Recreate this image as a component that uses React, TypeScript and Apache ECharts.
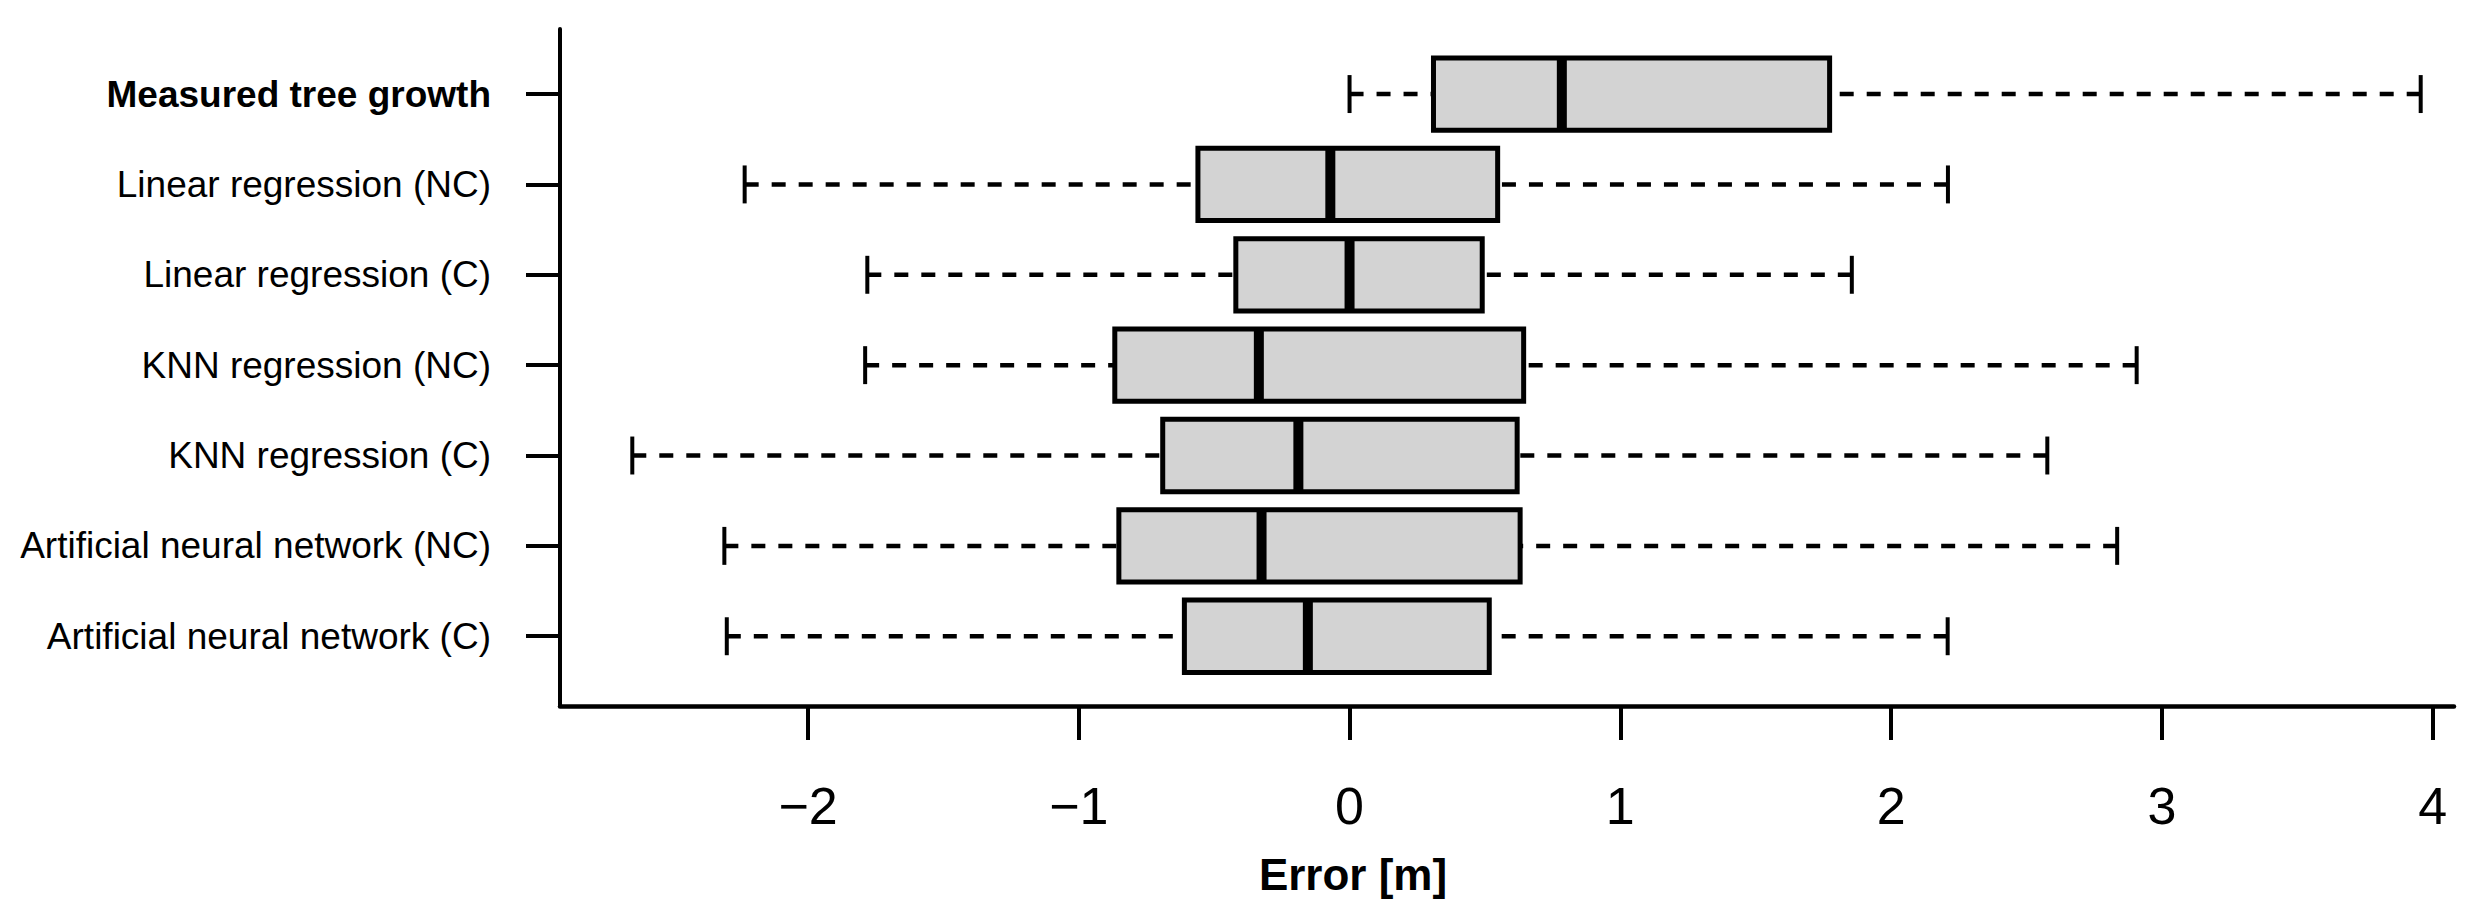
import React, { useEffect, useRef } from "react";
import * as echarts from "echarts";

// Categories, top to bottom as they appear in the chart
const categories = [
  "Measured tree growth",
  "Linear regression (NC)",
  "Linear regression (C)",
  "KNN regression (NC)",
  "KNN regression (C)",
  "Artificial neural network (NC)",
  "Artificial neural network (C)",
];

// Box-plot statistics (Error [m])
const lowerWhisker = [0.0, -2.234, -1.781, -1.789, -2.649, -2.309, -2.3];
const quartile1 = [0.31, -0.56, -0.42, -0.867, -0.69, -0.852, -0.61];
const medians = [0.784, -0.071, 0.0, -0.335, -0.189, -0.325, -0.154];
const quartile3 = [1.773, 0.547, 0.49, 0.643, 0.619, 0.63, 0.516];
const upperWhisker = [3.956, 2.21, 1.855, 2.907, 2.577, 2.835, 2.209];

// Axis ticks
const xTicks = [-2, -1, 0, 1, 2, 3, 4];
const X_MIN = -2.916;
const X_MAX = 4.079;
const Y_MIN = 0.228;
const Y_MAX = 7.72;
const xAxisTitle = "Error [m]";

const FONT = "'Liberation Sans', Arial, Helvetica, sans-serif";

// position on the value y axis (R style: first group at the bottom)
const positions = categories.map((_, i) => categories.length - i);

export default function App() {
  const ref = useRef<HTMLDivElement>(null);

  useEffect(() => {
    if (!ref.current) return;
    const chart = echarts.init(ref.current, undefined, { renderer: "svg" });

    const data = categories.map((_, i) => [
      positions[i],
      lowerWhisker[i],
      quartile1[i],
      medians[i],
      quartile3[i],
      upperWhisker[i],
    ]);

    const renderItem = (params: any, api: any) => {
      const pos = api.value(0);
      const lo = api.value(1);
      const q1 = api.value(2);
      const med = api.value(3);
      const q3 = api.value(4);
      const hi = api.value(5);
      const unit = api.size([0, 1])[1];
      const halfBox = unit * 0.4;
      const halfStaple = unit * 0.21;
      const pLo = api.coord([lo, pos]);
      const pQ1 = api.coord([q1, pos]);
      const pMed = api.coord([med, pos]);
      const pQ3 = api.coord([q3, pos]);
      const pHi = api.coord([hi, pos]);
      const cy = pLo[1];
      const dashStyle = {
        stroke: "#000",
        lineWidth: 4.5,
        lineDash: [14, 13],
        fill: null,
      };
      const solid = (w: number) => ({ stroke: "#000", lineWidth: w, fill: null });
      return {
        type: "group",
        children: [
          {
            type: "line",
            shape: { x1: pLo[0], y1: cy, x2: pQ1[0], y2: cy },
            style: dashStyle,
          },
          {
            type: "line",
            shape: { x1: pHi[0], y1: cy, x2: pQ3[0], y2: cy },
            style: dashStyle,
          },
          {
            type: "line",
            shape: { x1: pLo[0], y1: cy - halfStaple, x2: pLo[0], y2: cy + halfStaple },
            style: solid(4),
          },
          {
            type: "line",
            shape: { x1: pHi[0], y1: cy - halfStaple, x2: pHi[0], y2: cy + halfStaple },
            style: solid(4),
          },
          {
            type: "rect",
            shape: {
              x: pQ1[0],
              y: cy - halfBox,
              width: pQ3[0] - pQ1[0],
              height: halfBox * 2,
            },
            style: { fill: "#d3d3d3", stroke: "#000", lineWidth: 5 },
          },
          {
            type: "line",
            shape: { x1: pMed[0], y1: cy - halfBox, x2: pMed[0], y2: cy + halfBox },
            style: solid(10),
          },
        ],
      };
    };

    const option: any = {
      animation: false,
      backgroundColor: "#ffffff",
      grid: { left: 560, top: 29, width: 1894, height: 677, containLabel: false },
      xAxis: {
        type: "value",
        min: X_MIN,
        max: X_MAX,
        splitLine: { show: false },
        axisLine: { show: true, onZero: false, lineStyle: { color: "#000", width: 4.5 } },
        axisTick: {
          show: true,
          length: 34,
          customValues: xTicks,
          lineStyle: { color: "#000", width: 4 },
        },
        axisLabel: {
          show: true,
          customValues: xTicks,
          margin: 74,
          fontSize: 52,
          lineHeight: 52,
          fontFamily: FONT,
          color: "#000",
          formatter: (v: number) => String(v).replace("-", "\u2212"),
        },
      },
      yAxis: {
        type: "value",
        min: Y_MIN,
        max: Y_MAX,
        splitLine: { show: false },
        axisLine: { show: true, onZero: false, lineStyle: { color: "#000", width: 4 } },
        axisTick: {
          show: true,
          length: 34,
          customValues: positions,
          lineStyle: { color: "#000", width: 4 },
        },
        axisLabel: {
          show: true,
          customValues: positions,
          margin: 69,
          fontSize: 37,
          lineHeight: 37,
          fontFamily: FONT,
          color: "#000",
          formatter: (v: number) => {
            const idx = categories.length - Math.round(v);
            const name = categories[idx] ?? "";
            return idx === 0 ? `{b|${name}}` : name;
          },
          rich: {
            b: {
              fontWeight: "bold",
              fontSize: 37,
              lineHeight: 37,
              fontFamily: FONT,
              color: "#000",
            },
          },
        },
      },
      graphic: [
        {
          type: "text",
          x: 1353,
          y: 874,
          style: {
            text: xAxisTitle,
            fill: "#000",
            font: `bold 44px ${FONT}`,
            textAlign: "center",
            textVerticalAlign: "middle",
          },
        },
      ],
      series: [
        {
          type: "custom",
          renderItem,
          data,
          clip: false,
          encode: { x: [1, 2, 3, 4, 5], y: 0 },
        },
      ],
    };

    chart.setOption(option);
    return () => chart.dispose();
  }, []);

  return (
    <div
      ref={ref}
      style={{ position: "absolute", left: 0, top: 0, width: 2482, height: 923, background: "#fff" }}
    />
  );
}
